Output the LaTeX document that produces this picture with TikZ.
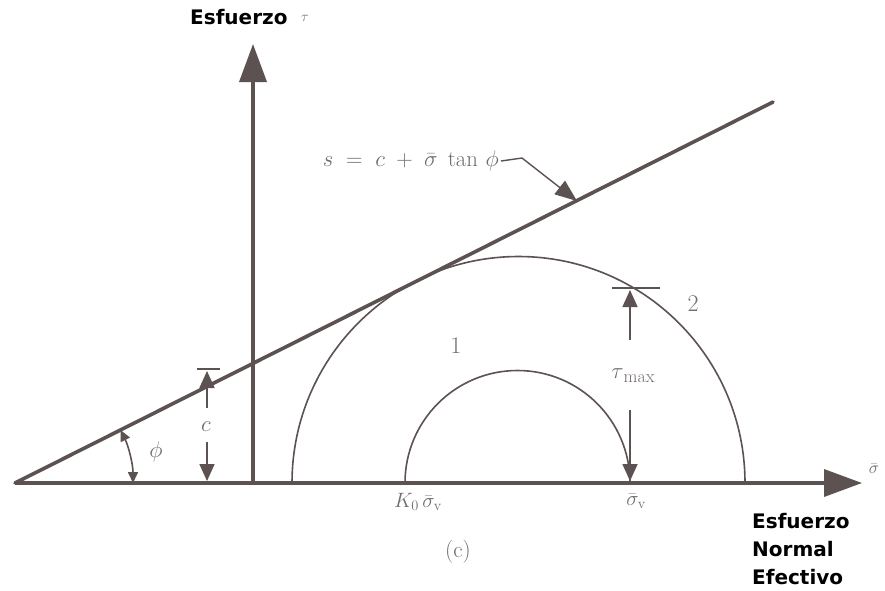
\documentclass[tikz,border=0pt]{standalone}
\usepackage{fontspec}
\usepackage{graphicx}
\newfontfamily\lblfont{DejaVu Sans}
\usetikzlibrary{arrows.meta}
\definecolor{ink}{RGB}{92,82,82}
\definecolor{txt}{RGB}{115,108,108}
\tikzset{
  axis/.style={draw=ink,line width=3.6pt},
  bigtip/.style={-{Triangle[length=38pt,width=27pt]}},
  circ/.style={draw=ink,line width=1.6pt},
  dim/.style={draw=ink,line width=1.6pt,-{Triangle[length=17pt,width=15pt]}},
  tbar/.style={draw=ink,line width=1.6pt},
  lbl/.style={text=txt,font=\fontsize{20.74}{24}\selectfont,inner sep=0pt},
  bold/.style={text=black,font=\lblfont\bfseries\fontsize{20}{28}\selectfont,inner sep=0pt},
}
\begin{document}
\begin{tikzpicture}[x=1pt,y=-1pt]
\useasboundingbox[fill=white] (0,0) rectangle (885,590);
% key points
\coordinate (O) at (15,483);
\coordinate (Xend) at (862,483);
\coordinate (Ybot) at (253,483);
\coordinate (Ytop) at (253,44);
\coordinate (Lend) at (773,102);
% axes and failure line
\draw[axis,bigtip] (O) -- (Xend);
\draw[axis,bigtip] (Ybot) -- (Ytop);
\draw[axis,line cap=round] (O) -- (Lend);
% Mohr circles
\coordinate (C2s) at (292,483);
\coordinate (C1s) at (405,483);
\draw[circ] (C2s) arc[start angle=180,end angle=360,radius=226.5];
\draw[circ] (C1s) arc[start angle=180,end angle=360,radius=112.5];
% phi angle
\coordinate (Pa) at (133,483);
\draw[draw=ink,line width=1.6pt,{Triangle[length=11pt,width=10pt]}-{Triangle[length=11pt,width=10pt]}]
  (Pa) arc[start angle=0,end angle=-26.69,radius=118];
\node[lbl] (phi) at (156,452) {\scalebox{1.1}{$\phi$}};
% c dimension
\coordinate (cT1) at (197,369);
\coordinate (cT2) at (220,369);
\draw[tbar] (cT1) -- (cT2);
\coordinate (cU0) at (207,408);
\coordinate (cU1) at (207,371);
\coordinate (cD0) at (207,442);
\coordinate (cD1) at (207,481);
\draw[dim] (cU0) -- (cU1);
\draw[dim] (cD0) -- (cD1);
\node[lbl] (c) at (206,427) {\scalebox{1.1}{$c$}};
% tau max dimension
\coordinate (tT1) at (612,288);
\coordinate (tT2) at (660,288);
\draw[tbar] (tT1) -- (tT2);
\coordinate (tU0) at (630,340);
\coordinate (tU1) at (630,290);
\coordinate (tD0) at (630,410);
\coordinate (tD1) at (630,481);
\draw[dim] (tU0) -- (tU1);
\draw[dim] (tD0) -- (tD1);
\node[lbl] (tmax) at (633,376) {\scalebox{1.1}{$\tau$}\raisebox{-4pt}{\fontsize{18}{18}\selectfont max}};
% circle labels
\node[lbl,font=\fontsize{24}{26}\selectfont] (one) at (456,346) {1};
\node[lbl,font=\fontsize{24}{26}\selectfont] (two) at (693,304) {2};
% failure envelope label
\node[lbl,anchor=east] (eq) at (499,161) {\scalebox{1.1}{$s\;=\;c\;+\;\bar{\sigma}\;\tan\,\phi$}};
\coordinate (bend) at (522,158);
\coordinate (etip) at (577,201);
\draw[draw=ink,line width=1.4pt,-{Triangle[length=22pt,width=17pt]}] (eq.east) ++(2,0) -- (bend) -- (etip);
% axis labels
\node[lbl] (k0) at (418,502) {$K_0\,\bar{\sigma}_{\mathrm{v}}$};
\node[lbl] (sv) at (636,501) {$\bar{\sigma}_{\mathrm{v}}$};
\node[lbl,font=\fontsize{17.28}{20}\selectfont] (sig) at (874,469) {$\bar{\sigma}$};
\node[lbl,font=\fontsize{23}{25}\selectfont] (cap) at (458,552) {(c)};
\node[bold,anchor=west] (ylab) at (190,17) {Esfuerzo};
\node[lbl,font=\fontsize{14.4}{16}\selectfont] (tau) at (305,18) {$\tau$};
\node[bold,anchor=north west,align=left] (xlab) at (752,513) {Esfuerzo\\Normal\\Efectivo};
\end{tikzpicture}
\end{document}
